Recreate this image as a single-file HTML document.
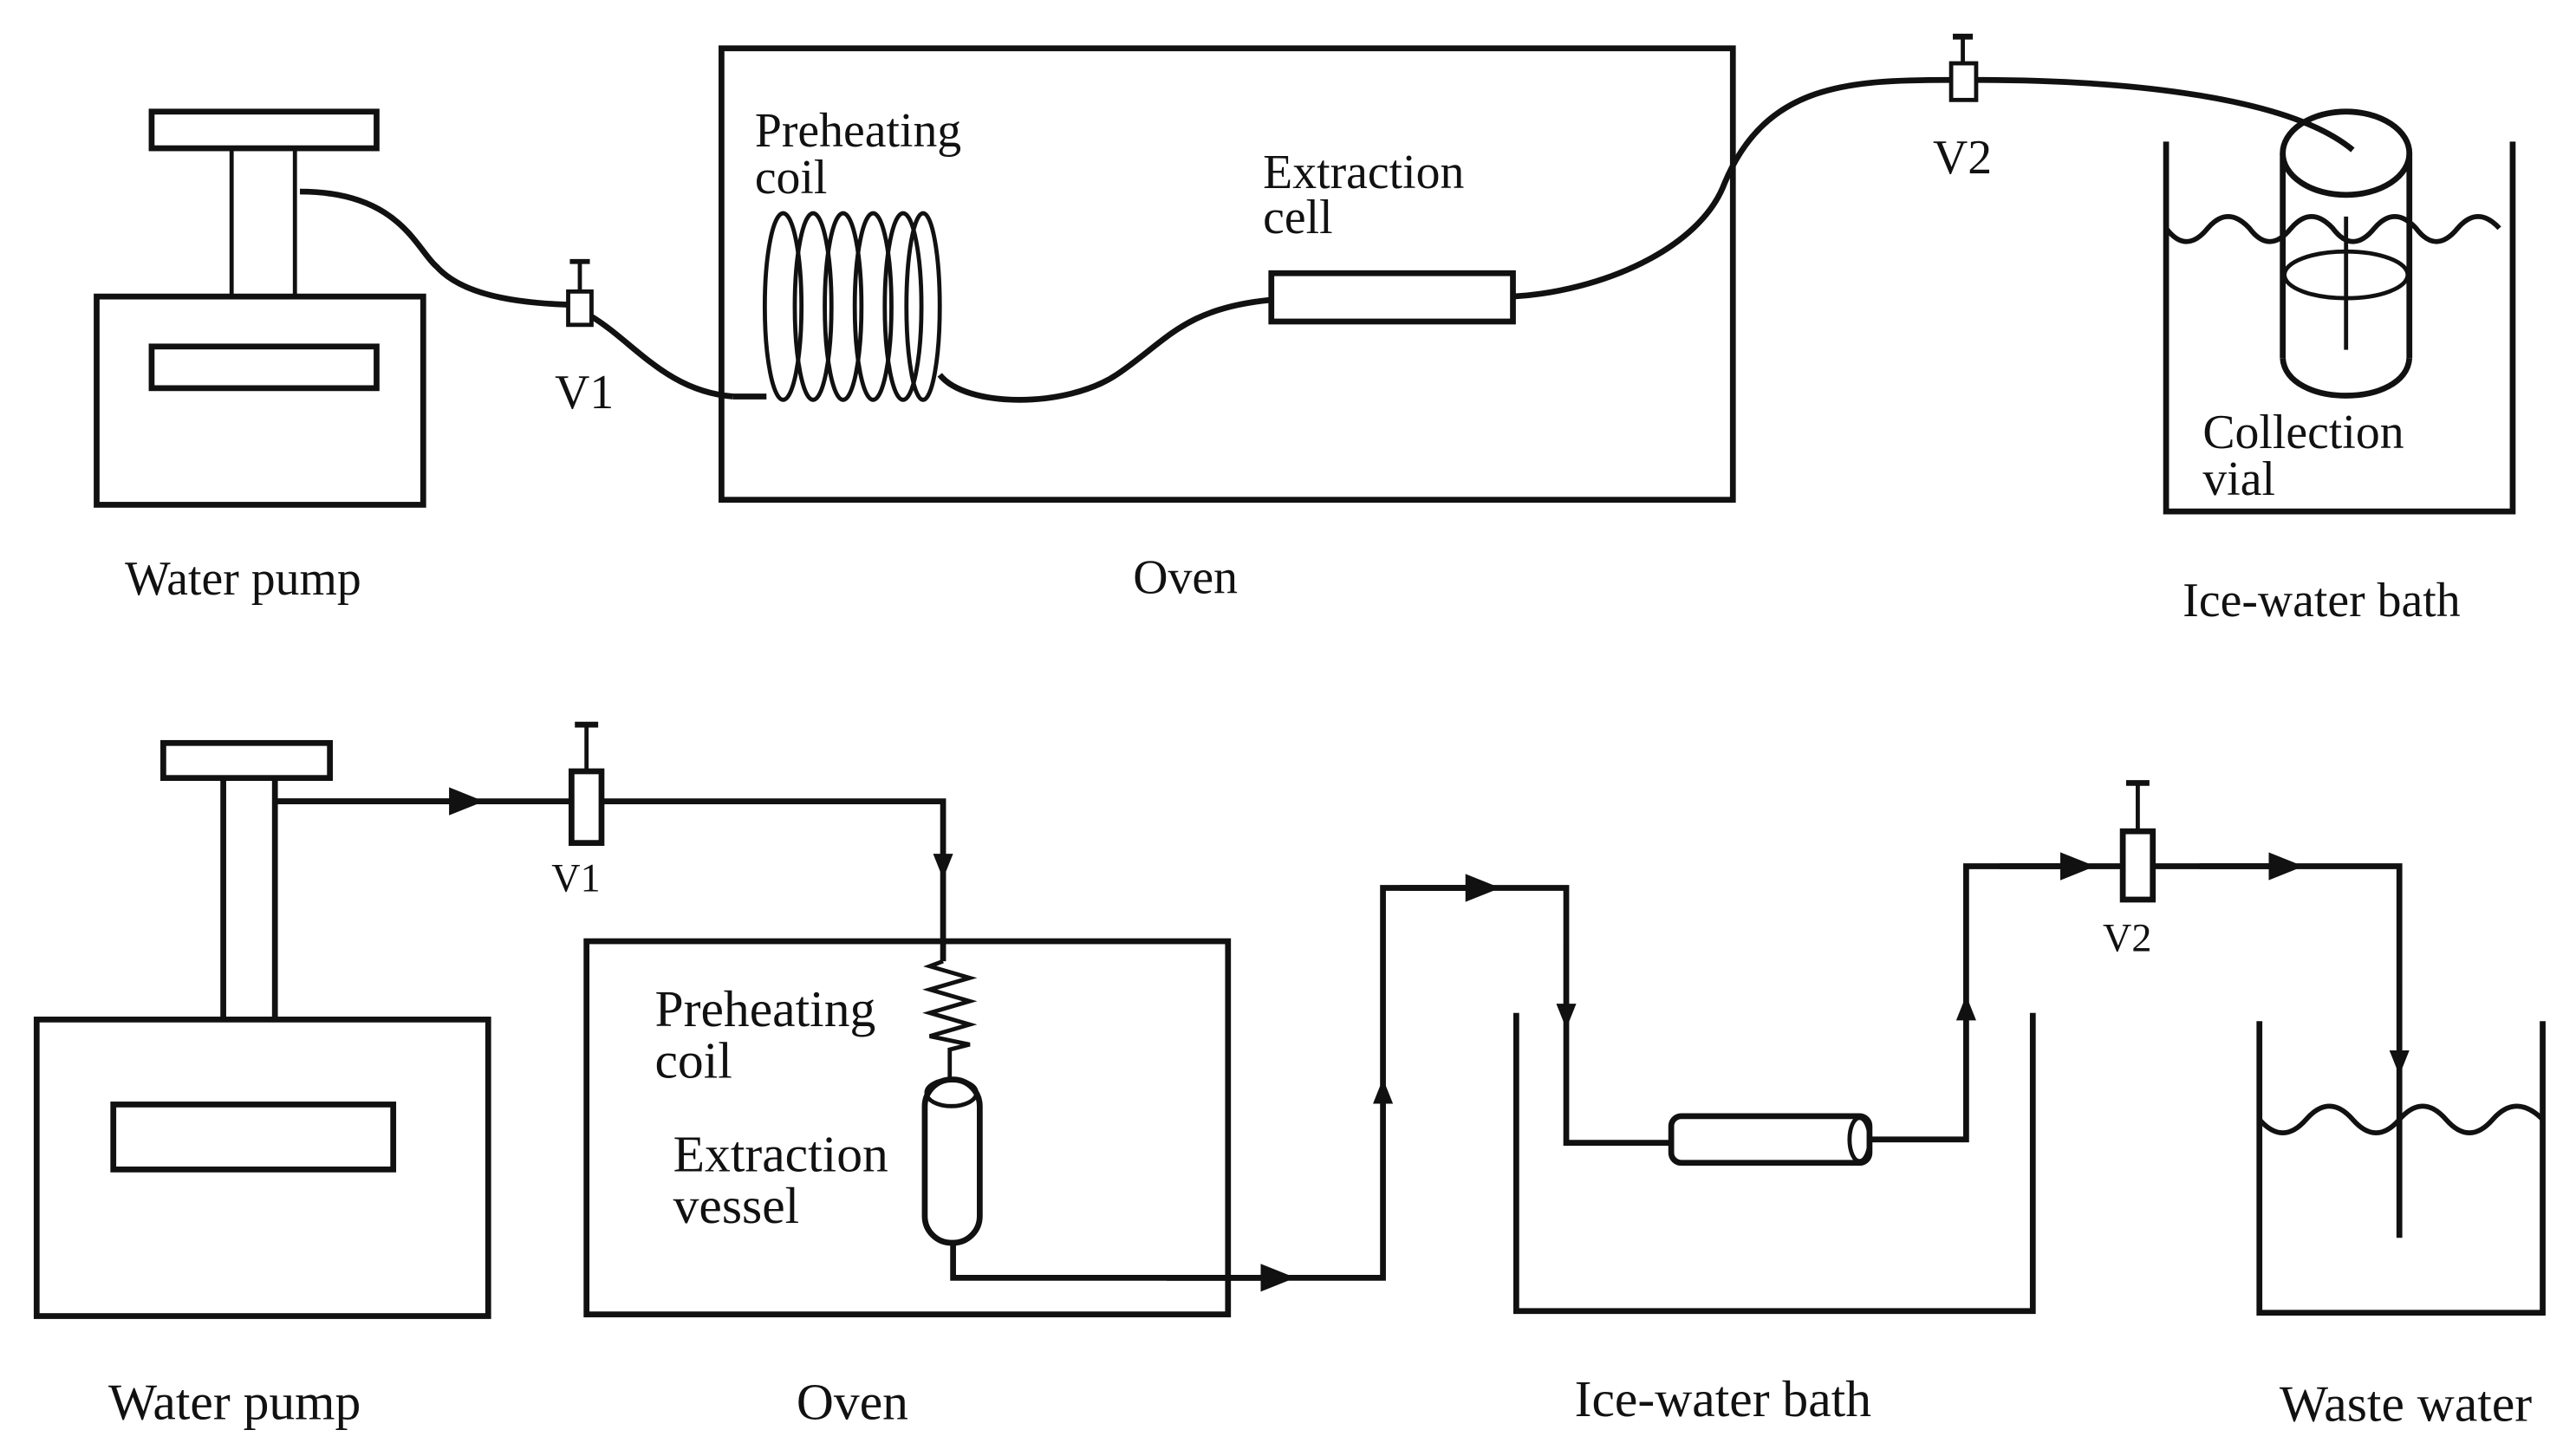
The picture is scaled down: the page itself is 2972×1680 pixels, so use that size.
<!DOCTYPE html>
<html><head><meta charset="utf-8"><style>
html,body{margin:0;padding:0;background:#fff;}
svg{display:block;}
text{font-family:"Liberation Serif",serif;fill:#111;}
</style></head><body>
<svg width="2972" height="1680" viewBox="0 0 1546 874" preserveAspectRatio="none" xmlns="http://www.w3.org/2000/svg">
<defs>
<marker id="a" viewBox="0 0 10 10" refX="5" refY="5" markerWidth="6" markerHeight="6" orient="auto"><path d="M0,1 L10,5 L0,9 Z" fill="#111"/></marker>
</defs>
<g fill="none" stroke="#111" stroke-width="3.5">
<!-- TOP -->
<rect x="58" y="178" width="196" height="125"/>
<rect x="91" y="208" width="135" height="25"/>
<rect x="91" y="67" width="135" height="22"/>
<line x1="139" y1="89" x2="139" y2="178" stroke-width="2.5"/>
<line x1="177" y1="89" x2="177" y2="178" stroke-width="2.5"/>
<path d="M180,115 C240,115 250,150 262,160 C280,180 320,182 342,183"/>
<path d="M355,190 C380,205 400,235 440,238"/>
<rect x="341" y="175" width="14" height="20" stroke-width="2.5"/>
<line x1="348" y1="175" x2="348" y2="157" stroke-width="2.5"/>
<line x1="342" y1="157" x2="354" y2="157" stroke-width="3"/>
<rect x="433" y="29" width="607" height="271"/>
<path d="M440,238 L460,238" />
<g stroke-width="2.5">
<ellipse cx="470" cy="184" rx="11" ry="56"/>
<ellipse cx="488" cy="184" rx="11" ry="56"/>
<ellipse cx="506" cy="184" rx="11" ry="56"/>
<ellipse cx="524" cy="184" rx="11" ry="56"/>
<ellipse cx="542" cy="184" rx="11" ry="56"/>
<ellipse cx="554" cy="184" rx="10" ry="56"/>
</g>
<path d="M564,225 C580,245 640,245 670,225 C700,205 710,185 763,180"/>
<rect x="763" y="164" width="145" height="29"/>
<path d="M908,178 C960,175 1020,150 1035,110 C1060,50 1110,48 1171,48"/>
<path d="M1186,48 C1260,48 1370,55 1412,90"/>
<rect x="1171" y="38" width="15" height="22" stroke-width="2.5"/>
<line x1="1178" y1="38" x2="1178" y2="22" stroke-width="2.5"/>
<line x1="1172" y1="22" x2="1184" y2="22"/>
<path d="M1300,85 L1300,307 L1508,307 L1508,85"/>
<path d="M1300,137 q12,16 25,0 q12,-14 25,0 q12,16 25,0 q12,-14 25,0 q12,16 25,0 q12,-14 25,0 q12,16 25,0 q12,-14 25,0" stroke-width="3"/>
<ellipse cx="1408" cy="92" rx="38" ry="25"/>
<line x1="1370" y1="92" x2="1370" y2="215"/>
<line x1="1446" y1="92" x2="1446" y2="215"/>
<path d="M1370,215 C1372,245 1444,245 1446,215"/>
<ellipse cx="1408" cy="165" rx="37" ry="14" stroke-width="2.5"/>
<line x1="1408" y1="130" x2="1408" y2="210" stroke-width="2.5"/>
<!-- BOTTOM -->
<rect x="22" y="612" width="271" height="178"/>
<rect x="68" y="663" width="168" height="39"/>
<rect x="98" y="446" width="100" height="21"/>
<line x1="134" y1="467" x2="134" y2="612"/>
<line x1="165" y1="467" x2="165" y2="612"/>
<path d="M165,481 L343,481" marker-mid="url(#a)"/>
<line x1="165" y1="481" x2="280" y2="481" marker-end="url(#a)"/>
<rect x="343" y="463" width="18" height="43"/>
<line x1="352" y1="463" x2="352" y2="435" stroke-width="2.5"/>
<line x1="345" y1="435" x2="359" y2="435"/>
<path d="M361,481 L566,481 L566,577"/>
<line x1="566" y1="481" x2="566" y2="520" stroke-width="2.5" marker-end="url(#a)"/>
<rect x="352" y="565" width="385" height="224"/>
<path d="M566,577 L558,580 L582,587 L558,594 L582,601 L558,608 L582,615 L558,622 L582,627 L570,630 L570,648" stroke-width="2.5"/>
<rect x="555" y="648" width="33" height="98" rx="16"/>
<ellipse cx="571" cy="656" rx="15" ry="8" stroke-width="2.5"/>
<path d="M572,746 L572,767 L830,767 L830,533 L940,533 L940,686 L1003,686"/>
<line x1="700" y1="767" x2="767" y2="767" marker-end="url(#a)"/>
<line x1="830" y1="700" x2="830" y2="655" stroke-width="2.5" marker-end="url(#a)"/>
<line x1="840" y1="533" x2="890" y2="533" marker-end="url(#a)"/>
<line x1="940" y1="570" x2="940" y2="610" stroke-width="2.5" marker-end="url(#a)"/>
<rect x="1003" y="670" width="119" height="28" rx="6"/>
<ellipse cx="1116" cy="684" rx="6" ry="13" stroke-width="2.5"/>
<path d="M1122,684 L1180,684 L1180,520 L1274,520"/>
<line x1="1180" y1="650" x2="1180" y2="605" stroke-width="2.5" marker-end="url(#a)"/>
<line x1="1200" y1="520" x2="1247" y2="520" marker-end="url(#a)"/>
<rect x="1274" y="499" width="18" height="41"/>
<line x1="1283" y1="499" x2="1283" y2="470" stroke-width="2.5"/>
<line x1="1276" y1="470" x2="1290" y2="470"/>
<path d="M1292,520 L1440,520 L1440,743"/>
<line x1="1320" y1="520" x2="1372" y2="520" marker-end="url(#a)"/>
<line x1="1440" y1="590" x2="1440" y2="638" stroke-width="2.5" marker-end="url(#a)"/>
<path d="M910,608 L910,787 L1220,787 L1220,608"/>
<path d="M1356,613 L1356,788 L1526,788 L1526,613"/>
<path d="M1356,672 q14,16 28,0 q14,-16 28,0 q14,16 28,0 q14,-16 28,0 q14,16 28,0 q14,-16 30,0" stroke-width="3"/>
</g>
<g font-size="29">
<text x="75" y="357">Water pump</text>
<text x="680" y="356">Oven</text>
<text x="1310" y="370">Ice-water bath</text>
<text x="453" y="88">Preheating</text>
<text x="453" y="116">coil</text>
<text x="758" y="113">Extraction</text>
<text x="758" y="140">cell</text>
<text x="333" y="245">V1</text>
<text x="1160" y="104">V2</text>
<text x="1322" y="269">Collection</text>
<text x="1322" y="297">vial</text>
</g>
<g font-size="31">
<text x="65" y="852">Water pump</text>
<text x="478" y="852">Oven</text>
<text x="945" y="850">Ice-water bath</text>
<text x="1368" y="853">Waste water</text>
<text x="393" y="616">Preheating</text>
<text x="393" y="647">coil</text>
<text x="404" y="703">Extraction</text>
<text x="404" y="734">vessel</text>
</g>
<g font-size="24">
<text x="331" y="535">V1</text>
<text x="1262" y="571">V2</text>
</g>
</svg>
</body></html>
